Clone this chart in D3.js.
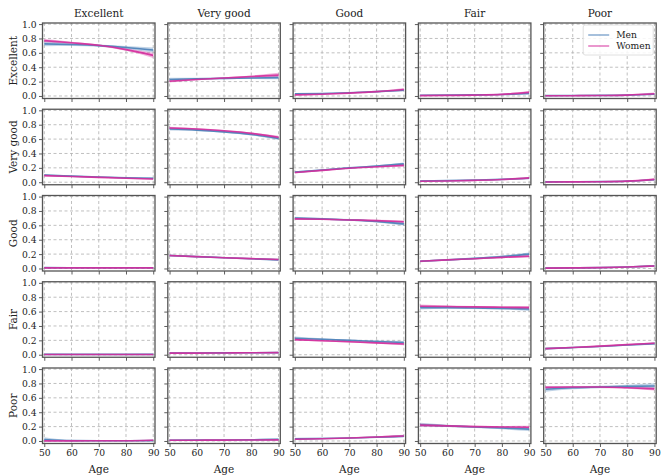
<!DOCTYPE html>
<html><head><meta charset="utf-8">
<script src="https://cdn.jsdelivr.net/npm/d3@7"></script>
<style>body{margin:0;background:#fff}svg{display:block}svg text{font-family:"DejaVu Serif","Liberation Serif",serif !important;fill:#222}</style>
</head><body><svg id="c" width="661" height="475"></svg>
<script>
const ages = [50, 60, 70, 80, 90];
const states = ["Excellent", "Very good", "Good", "Fair", "Poor"];
const xTicks = [50, 60, 70, 80, 90];
const yTicks = [0.0, 0.2, 0.4, 0.6, 0.8, 1.0];
const seriesNames = ["Men", "Women"];
const seriesColors = ["#4a80b8", "#d42c9c"];

// menMean[row][col] : probability values at ages 50..90
const menMean = [
  [[0.725,0.715,0.70,0.675,0.64],[0.23,0.24,0.245,0.25,0.255],[0.03,0.035,0.045,0.06,0.08],[0.01,0.012,0.015,0.02,0.035],[0.005,0.006,0.008,0.012,0.025]],
  [[0.1,0.085,0.072,0.062,0.055],[0.74,0.725,0.70,0.665,0.61],[0.14,0.17,0.2,0.225,0.255],[0.018,0.022,0.03,0.04,0.055],[0.005,0.006,0.008,0.015,0.035]],
  [[0.012,0.01,0.01,0.01,0.01],[0.18,0.165,0.15,0.135,0.12],[0.70,0.69,0.675,0.655,0.62],[0.10,0.12,0.14,0.165,0.20],[0.005,0.008,0.012,0.02,0.035]],
  [[0.005,0.005,0.005,0.005,0.005],[0.025,0.025,0.026,0.028,0.03],[0.23,0.215,0.2,0.185,0.17],[0.655,0.655,0.65,0.645,0.635],[0.085,0.1,0.115,0.135,0.155]],
  [[0.02,0.005,0.003,0.003,0.005],[0.01,0.012,0.014,0.017,0.022],[0.03,0.035,0.042,0.052,0.065],[0.225,0.21,0.195,0.18,0.165],[0.72,0.74,0.75,0.76,0.765]]
];
const womenMean = [
  [[0.77,0.74,0.705,0.645,0.565],[0.205,0.23,0.25,0.27,0.29],[0.015,0.025,0.04,0.06,0.09],[0.005,0.008,0.012,0.022,0.05],[0.003,0.004,0.006,0.012,0.03]],
  [[0.092,0.08,0.068,0.056,0.045],[0.755,0.74,0.715,0.68,0.625],[0.135,0.165,0.195,0.215,0.235],[0.014,0.018,0.026,0.038,0.06],[0.004,0.005,0.007,0.015,0.04]],
  [[0.008,0.008,0.008,0.008,0.008],[0.18,0.165,0.15,0.137,0.125],[0.69,0.685,0.675,0.665,0.65],[0.10,0.12,0.135,0.155,0.17],[0.005,0.008,0.012,0.02,0.035]],
  [[0.004,0.004,0.004,0.004,0.004],[0.022,0.023,0.025,0.027,0.03],[0.21,0.195,0.18,0.165,0.15],[0.675,0.67,0.665,0.66,0.655],[0.085,0.1,0.12,0.14,0.16]],
  [[0.002,0.002,0.003,0.004,0.01],[0.01,0.011,0.012,0.014,0.016],[0.025,0.032,0.042,0.055,0.07],[0.22,0.21,0.2,0.195,0.19],[0.745,0.75,0.75,0.74,0.725]]
];
// half-widths of the uncertainty bands
const menHalf = [
  [[0.035,0.02,0.015,0.02,0.035],[0.022,0.013,0.011,0.013,0.024],[0.012,0.008,0.007,0.009,0.015],[0.008,0.006,0.006,0.008,0.014],[0.006,0.005,0.005,0.007,0.012]],
  [[0.014,0.008,0.007,0.008,0.012],[0.022,0.014,0.012,0.014,0.022],[0.014,0.01,0.009,0.011,0.018],[0.008,0.006,0.006,0.008,0.012],[0.006,0.005,0.005,0.007,0.012]],
  [[0.008,0.006,0.006,0.006,0.008],[0.014,0.01,0.009,0.01,0.014],[0.02,0.012,0.012,0.014,0.022],[0.014,0.01,0.01,0.014,0.024],[0.006,0.005,0.005,0.007,0.012]],
  [[0.007,0.005,0.005,0.005,0.007],[0.01,0.007,0.007,0.007,0.01],[0.024,0.014,0.012,0.014,0.022],[0.027,0.017,0.014,0.017,0.027],[0.012,0.009,0.009,0.01,0.016]],
  [[0.032,0.008,0.006,0.006,0.01],[0.01,0.007,0.007,0.008,0.012],[0.014,0.009,0.008,0.01,0.016],[0.027,0.016,0.014,0.017,0.027],[0.037,0.022,0.017,0.022,0.037]]
];
const womenHalf = [
  [[0.022,0.014,0.012,0.017,0.037],[0.017,0.012,0.01,0.014,0.032],[0.01,0.007,0.007,0.01,0.022],[0.007,0.006,0.006,0.009,0.02],[0.006,0.005,0.005,0.008,0.017]],
  [[0.012,0.008,0.007,0.008,0.012],[0.017,0.012,0.01,0.012,0.02],[0.012,0.009,0.008,0.01,0.016],[0.007,0.006,0.006,0.008,0.014],[0.006,0.005,0.005,0.007,0.014]],
  [[0.007,0.006,0.006,0.006,0.007],[0.012,0.009,0.008,0.009,0.012],[0.017,0.012,0.011,0.012,0.018],[0.012,0.009,0.009,0.012,0.018],[0.006,0.005,0.005,0.007,0.012]],
  [[0.006,0.005,0.005,0.005,0.006],[0.008,0.006,0.006,0.007,0.009],[0.017,0.012,0.01,0.012,0.017],[0.022,0.014,0.012,0.014,0.022],[0.01,0.008,0.008,0.009,0.014]],
  [[0.006,0.005,0.005,0.006,0.01],[0.007,0.006,0.006,0.007,0.009],[0.012,0.008,0.008,0.01,0.016],[0.022,0.014,0.012,0.014,0.022],[0.017,0.012,0.012,0.014,0.022]]
];

const svg = d3.select("#c");
const left0 = 42.5, pitchX = 125.3, pw = 112.5;
const top0 = 23, pitchY = 86.25, ph = 75.5;
const x = d3.scaleLinear().domain([49.35, 90.65]).range([0, pw]);
const y = d3.scaleLinear().domain([-0.035, 1.015]).range([ph, 0]);
const curve = d3.curveMonotoneX;
const FONT = '"DejaVu Serif", "Liberation Serif", serif';

const means = [menMean, womenMean], halfs = [menHalf, womenHalf];

for (let r = 0; r < 5; r++) {
  for (let c = 0; c < 5; c++) {
    const g = svg.append("g").attr("transform", `translate(${left0 + c*pitchX},${top0 + r*pitchY})`);
    g.selectAll(".gx").data(xTicks).enter().append("line")
      .attr("x1", d => x(d)).attr("x2", d => x(d)).attr("y1", 0).attr("y2", ph)
      .attr("stroke", "#b0b0b0").attr("stroke-width", 0.8).attr("stroke-dasharray", "3,2.5");
    g.selectAll(".gy").data(yTicks).enter().append("line")
      .attr("y1", d => y(d)).attr("y2", d => y(d)).attr("x1", 0).attr("x2", pw)
      .attr("stroke", "#b0b0b0").attr("stroke-width", 0.8).attr("stroke-dasharray", "3,2.5");
    const clipId = `clip${r}${c}`;
    g.append("clipPath").attr("id", clipId).append("rect").attr("width", pw).attr("height", ph);
    const data = g.append("g").attr("clip-path", `url(#${clipId})`);
    for (let s = 0; s < 2; s++) {
      const m = means[s][r][c], h = halfs[s][r][c];
      const pts = ages.map((a, i) => ({a, v: m[i], lo: m[i] - h[i], hi: m[i] + h[i]}));
      data.append("path").datum(pts)
        .attr("d", d3.area().x(d => x(d.a)).y0(d => y(d.lo)).y1(d => y(d.hi)).curve(curve))
        .attr("fill", seriesColors[s]).attr("fill-opacity", 0.35);
    }
    for (let s = 0; s < 2; s++) {
      const m = means[s][r][c];
      const pts = ages.map((a, i) => ({a, v: m[i]}));
      data.append("path").datum(pts)
        .attr("d", d3.line().x(d => x(d.a)).y(d => y(d.v)).curve(curve))
        .attr("fill", "none").attr("stroke", seriesColors[s]).attr("stroke-width", 1.6).attr("stroke-opacity", 0.9);
    }
    const xa = d3.axisBottom(x).tickValues(xTicks).tickSize(3.5).tickPadding(2)
      .tickFormat(r === 4 ? d3.format("d") : () => "");
    const gx = g.append("g").attr("transform", `translate(0,${ph})`).call(xa);
    const ya = d3.axisLeft(y).tickValues(yTicks).tickSize(3.5).tickPadding(2.5)
      .tickFormat(c === 0 ? d3.format(".1f") : () => "");
    const gy = g.append("g").call(ya);
    [gx, gy].forEach(ax => {
      ax.attr("font-family", FONT).attr("font-size", 9.2);
      ax.select(".domain").remove();
      ax.selectAll(".tick line").attr("stroke", "#333").attr("stroke-width", 0.8);
      ax.selectAll("text").attr("fill", "#222");
    });
    g.append("rect").attr("width", pw).attr("height", ph).attr("fill", "none")
      .attr("stroke", "#555").attr("stroke-width", 1.3);
    if (r === 0) {
      g.append("text").attr("x", pw/2).attr("y", -6).attr("text-anchor", "middle")
        .attr("font-family", FONT).attr("font-size", 10.5).text(states[c]);
    }
    if (c === 0) {
      g.append("text").attr("transform", `translate(-26,${ph/2}) rotate(-90)`).attr("text-anchor", "middle")
        .attr("font-family", FONT).attr("font-size", 10.5).text(states[r]);
    }
    if (r === 4) {
      g.append("text").attr("x", pw/2).attr("y", ph + 29).attr("text-anchor", "middle")
        .attr("font-family", FONT).attr("font-size", 10.5).text("Age");
    }
    if (r === 0 && c === 4) {
      const lg = g.append("g").attr("transform", `translate(${pw - 73},2)`);
      lg.append("rect").attr("width", 70).attr("height", 30).attr("rx", 2)
        .attr("fill", "#fff").attr("fill-opacity", 0.85).attr("stroke", "#d8d8d8").attr("stroke-width", 0.8);
      seriesNames.forEach((n, i) => {
        lg.append("line").attr("x1", 5).attr("x2", 26).attr("y1", 10 + i*11).attr("y2", 10 + i*11)
          .attr("stroke", seriesColors[i]).attr("stroke-width", 1.4).attr("stroke-opacity", 0.7);
        lg.append("text").attr("x", 33).attr("y", 13.3 + i*11)
          .attr("font-family", FONT).attr("font-size", 9.2).text(n);
      });
    }
  }
}
</script></body></html>
